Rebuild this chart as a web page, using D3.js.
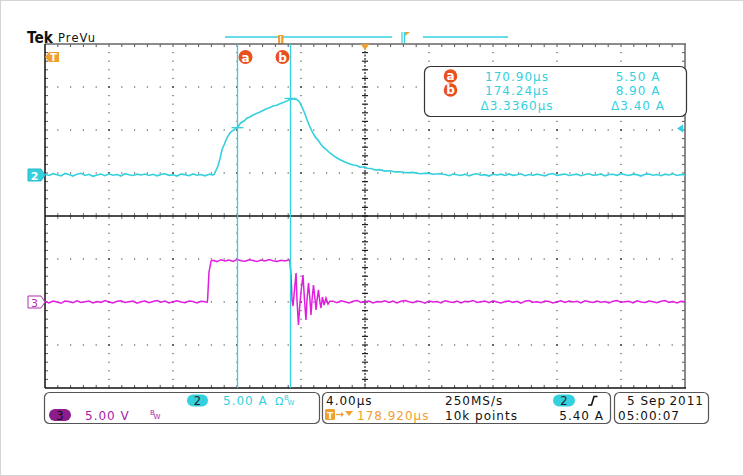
<!DOCTYPE html>
<html><head><meta charset="utf-8">
<script src="https://cdn.jsdelivr.net/npm/d3@7/dist/d3.min.js"></script>
<style>body{margin:0;background:#fff}svg{display:block}text{font-family:"DejaVu Sans",sans-serif}</style>
</head><body><svg id="c" width="744" height="476"></svg>
<script>
// ---------------- data ----------------
const timePerDiv = 4.00;          // µs/div
const triggerTime = 178.920;      // µs (screen centre)
const ch2PerDiv = 5.00;           // A/div
const ch3PerDiv = 5.00;           // V/div
const triggerLevel = 5.40;        // A
const cursorTimes = [170.90, 174.24];
const cursorValues = [5.50, 8.90];
const cursorLabels = ["a", "b"];
const readoutTimes = ["170.90µs", "174.24µs", "Δ3.3360µs"];
const readoutValues = ["5.50 A", "8.90 A", "Δ3.40 A"];
const sampleStep = 0.25; // µs between listed samples of uniform segments

const ch2Before = {start:158.92, values:[0.10,-0.05,0.15,0.02,-0.10,0.18,0.05,-0.12,0.10,0.20,-0.05,0.08,-0.15,0.00,0.12,-0.08,0.14,-0.02,0.05,-0.12,0.16,0.02,-0.06,0.10,0.00,0.12,-0.05,0.08,-0.10,0.06,0.15,-0.04,0.02,-0.12,0.10,0.04,-0.08,0.12,-0.02,0.06,-0.10,0.08,0.02]};
const ch2Pulse = [[169.48,0.05],[169.6,0.5],[169.73,1.05],[169.86,1.9],[169.98,2.9],[170.05,3.26],[170.14,3.6],[170.23,4.07],[170.35,4.5],[170.48,4.88],[170.6,5.1],[170.73,5.23],[170.85,5.45],[170.98,5.58],[171.1,5.95],[171.23,6.16],[171.38,6.3],[171.55,6.63],[171.7,6.72],[171.92,6.98],[172.1,7.12],[172.36,7.33],[172.55,7.5],[172.73,7.67],[172.95,7.82],[173.17,8.02],[173.4,8.1],[173.61,8.28],[173.85,8.45],[174.05,8.62],[174.2,8.78],[174.36,8.82],[174.5,8.88],[174.67,8.76],[174.78,8.6],[174.86,8.37],[174.98,7.9],[175.08,7.5],[175.17,7.09],[175.3,6.4],[175.48,5.58],[175.58,5.2],[175.67,4.88],[175.82,4.4],[175.98,4.07],[176.15,3.6],[176.3,3.26],[176.5,2.95],[176.73,2.56],[176.95,2.25],[177.17,1.98],[177.4,1.75],[177.67,1.51],[177.9,1.35],[178.17,1.16],[178.4,1.1],[178.61,0.9],[178.85,0.95],[179.05,0.78],[179.3,0.76],[179.55,0.58],[179.85,0.62],[180.17,0.45],[180.5,0.5],[180.8,0.36],[181.11,0.38],[181.5,0.26],[181.9,0.3],[182.36,0.15],[182.8,0.22],[183.2,0.08],[183.61,0.14]];
const ch2After = {start:183.92, values:[0.05,-0.08,0.12,0.02,-0.05,0.10,-0.10,0.06,0.15,-0.02,0.04,-0.12,0.08,0.00,0.10,-0.06,0.12,-0.04,0.02,0.14,-0.08,0.06,-0.02,0.10,0.00,-0.10,0.08,0.16,-0.05,0.04,0.12,-0.06,0.02,0.10,-0.08,0.06,0.14,-0.02,0.00,0.12,-0.10,0.05,0.08,-0.04,0.15,0.02,-0.06,0.10,0.04,-0.12,0.08,0.12,-0.02,0.06,-0.08,0.10,0.00,0.14,-0.05,0.06,0.02]};

const ch3Before = {start:158.92, values:[0.08,-0.10,0.12,0.00,-0.15,0.10,0.05,-0.08,0.15,-0.05,0.02,0.12,-0.12,0.06,-0.04,0.18,0.00,-0.10,0.08,0.14,-0.06,0.04,0.10,-0.14,0.02,0.12,-0.08,0.06,0.16,-0.02,0.10,-0.12,0.04,0.14,0.00,-0.08,0.12,0.06,-0.10,0.08,0.02]};
const ch3Edge = [[169.05,-0.05],[169.08,0.2],[169.17,3.49],[169.3,4.77]];
const ch3High = {start:169.42, values:[4.85,4.70,4.92,4.78,4.88,4.72,4.95,4.80,4.74,4.90,4.82,4.70,4.88,4.76,4.93,4.80,4.72,4.86,4.78,4.90]};
const ch3Ring = [[174.23,4.77],[174.295,3.14],[174.36,0.23],[174.42,-0.47],[174.48,0.70],[174.61,3.37],[174.67,0.23],[174.76,-2.67],[174.86,0.0],[174.92,1.16],[175.045,3.14],[175.14,0.23],[175.23,-2.09],[175.295,0.23],[175.39,2.21],[175.48,0.23],[175.545,-1.51],[175.61,0.23],[175.70,1.98],[175.80,0.23],[175.86,-0.93],[175.92,0.23],[176.01,1.40],[176.11,-0.12],[176.17,-0.70],[176.26,0.58],[176.36,-0.35],[176.48,0.47],[176.61,-0.23],[176.73,0.10]];
const ch3After = {start:176.92, values:[0.10,-0.08,0.15,0.02,-0.12,0.08,0.18,-0.05,0.04,0.12,-0.10,0.06,0.00,0.14,-0.06,0.10,-0.12,0.08,0.16,0.02,-0.08,0.12,0.04,-0.14,0.10,0.00,0.06,-0.10,0.15,0.02,-0.05,0.12,-0.12,0.08,0.04,0.18,-0.06,0.02,0.10,-0.08,0.14,0.00,-0.10,0.06,0.12,-0.04,0.08,-0.14,0.10,0.16,-0.02,0.04,-0.08,0.12,0.06,-0.12,0.02,0.14,-0.06,0.10,0.00,0.08,-0.10,0.15,0.04,-0.06,0.12,-0.02,0.06,-0.12,0.10,0.18,-0.04,0.02,0.08,-0.10,0.14,0.00,-0.06,0.12,0.04,-0.08,0.10,0.16,-0.04,0.06,-0.12,0.08,0.02]};

// ---------------- layout ----------------
const svg = d3.select('#c');
const gL = 45, gR = 685, gT = 44, gB = 388;
const divX = (gR - gL) / 10, divY = (gB - gT) / 8;
const midY = gT + 4 * divY;
const CY = '#34d0de', MG = '#e01ee0', OR = '#f0a030', RED = '#e8501e';

const x = d3.scaleLinear().domain([triggerTime - 5 * timePerDiv, triggerTime + 5 * timePerDiv]).range([gL, gR]);
const ch2Zero = 175, ch3Zero = midY + 2 * divY;
const y2 = d3.scaleLinear().domain([0, ch2PerDiv]).range([ch2Zero, ch2Zero - divY]);
const y3 = d3.scaleLinear().domain([0, ch3PerDiv]).range([ch3Zero, ch3Zero - divY]);

const seg = s => s.values.map((v, i) => [s.start + i * sampleStep, v]);
const ch2 = [...seg(ch2Before), ...ch2Pulse, ...seg(ch2After)];
const ch3 = [...seg(ch3Before), ...ch3Edge, ...seg(ch3High), ...ch3Ring, ...seg(ch3After)];

svg.append('rect').attr('x', 0.5).attr('y', 0.5).attr('width', 743).attr('height', 475).attr('fill', '#fff').attr('stroke', '#d4d4d4');

// header
svg.append('text').attr('x', 27).attr('y', 43).attr('font-family', '"Liberation Serif",serif').attr('font-weight', 'bold').attr('font-size', 16).attr('textLength', 26).attr('lengthAdjust', 'spacingAndGlyphs').attr('fill', '#111').text('Tek');
svg.append('text').attr('x', 58).attr('y', 42).attr('font-size', 11.5).attr('letter-spacing', 1.1).attr('fill', '#111').text('PreVu');

// record bar
svg.append('line').attr('x1', 225).attr('x2', 392).attr('y1', 37).attr('y2', 37).attr('stroke', CY).attr('stroke-width', 1.3);
svg.append('line').attr('x1', 423).attr('x2', 508).attr('y1', 37).attr('y2', 37).attr('stroke', CY).attr('stroke-width', 1.3);
svg.append('line').attr('x1', 402).attr('x2', 402).attr('y1', 32).attr('y2', 43).attr('stroke', CY).attr('stroke-width', 1.2);
svg.append('line').attr('x1', 404.5).attr('x2', 404.5).attr('y1', 32).attr('y2', 43).attr('stroke', CY).attr('stroke-width', 1.2);
svg.append('path').attr('d', 'M405,32 L410,32 L405,36 Z').attr('fill', OR);
svg.append('rect').attr('x', 278).attr('y', 35).attr('width', 5.5).attr('height', 9).attr('fill', OR);
svg.append('line').attr('x1', 280.7).attr('x2', 280.7).attr('y1', 36).attr('y2', 43).attr('stroke', '#fff').attr('stroke-width', 1);

// graticule
const gr = svg.append('g');
for (let k = 1; k < 10; k++) {
  if (k === 5) continue;
  const xx = gL + k * divX;
  for (let j = 1; j < 40; j++) {
    if (j === 20) continue;
    gr.append('rect').attr('x', xx - 0.6).attr('y', gT + j * divY / 5 - 0.6).attr('width', 1.2).attr('height', 1.2).attr('fill', '#555');
  }
}
[1, 2, 3, 5, 6, 7].forEach(k => {
  const yy = gT + k * divY;
  for (let j = 1; j < 50; j++) {
    if (j % 5 === 0 && j !== 25) continue;
    gr.append('rect').attr('x', gL + j * divX / 5 - 0.6).attr('y', yy - 0.6).attr('width', 1.2).attr('height', 1.2).attr('fill', '#555');
  }
});
[1, 2, 3, 5, 6, 7].forEach(k => {
  for (let kk = 1; kk < 10; kk++) { if (kk === 5) continue;
    gr.append('rect').attr('x', gL + kk * divX - 0.8).attr('y', gT + k * divY - 0.8).attr('width', 1.6).attr('height', 1.6).attr('fill', '#333'); }
});
// centre vertical
const cx = gL + 5 * divX;
gr.append('line').attr('x1', cx).attr('x2', cx).attr('y1', gT).attr('y2', gB).attr('stroke', '#333').attr('stroke-width', 1.3).attr('stroke-dasharray', '2,1.5');
for (let j = 1; j < 40; j++) {
  gr.append('line').attr('x1', cx - 3).attr('x2', cx + 3).attr('y1', gT + j * divY / 5).attr('y2', gT + j * divY / 5).attr('stroke', '#222').attr('stroke-width', 1.2);
}
// divider
for (let j = 1; j < 50; j++) {
  gr.append('line').attr('x1', gL + j * divX / 5).attr('x2', gL + j * divX / 5).attr('y1', midY - 3).attr('y2', midY + 3).attr('stroke', '#777').attr('stroke-width', 1);
}
gr.append('line').attr('x1', gL).attr('x2', gR).attr('y1', midY).attr('y2', midY).attr('stroke', '#111').attr('stroke-width', 1.5);
// edges
for (let j = 1; j < 40; j++) {
  const yy = gT + j * divY / 5;
  gr.append('line').attr('x1', gL).attr('x2', gL + 3).attr('y1', yy).attr('y2', yy).attr('stroke', '#555');
  gr.append('line').attr('x1', gR - 3).attr('x2', gR).attr('y1', yy).attr('y2', yy).attr('stroke', '#555');
}
for (let j = 1; j < 50; j++) {
  const xx = gL + j * divX / 5;
  gr.append('line').attr('x1', xx).attr('x2', xx).attr('y1', gT).attr('y2', gT + 3).attr('stroke', '#555');
  gr.append('line').attr('x1', xx).attr('x2', xx).attr('y1', gB - 3).attr('y2', gB).attr('stroke', '#555');
}
gr.append('line').attr('x1', gL).attr('x2', gR + 1).attr('y1', gT).attr('y2', gT).attr('stroke', '#666').attr('stroke-width', 1.5);
gr.append('line').attr('x1', gR).attr('x2', gR).attr('y1', gT).attr('y2', gB).attr('stroke', '#666').attr('stroke-width', 1.5);
gr.append('line').attr('x1', gL).attr('x2', gR + 1).attr('y1', gB).attr('y2', gB).attr('stroke', '#111').attr('stroke-width', 1.5);
gr.append('line').attr('x1', gL).attr('x2', gL).attr('y1', gT).attr('y2', gB).attr('stroke', '#111').attr('stroke-width', 1.5);

// clip
svg.append('clipPath').attr('id', 'clp').append('rect').attr('x', gL).attr('y', gT).attr('width', gR - gL).attr('height', gB - gT);

// traces
const line2 = d3.line().x(d => x(d[0])).y(d => y2(d[1]));
const line3 = d3.line().x(d => x(d[0])).y(d => y3(d[1]));
svg.append('path').attr('clip-path', 'url(#clp)').attr('d', line2(ch2)).attr('fill', 'none').attr('stroke', CY).attr('stroke-width', 1.6);
svg.append('path').attr('clip-path', 'url(#clp)').attr('d', line3(ch3)).attr('fill', 'none').attr('stroke', MG).attr('stroke-width', 1.5);

// cursors
cursorTimes.forEach((t, i) => {
  const xx = Math.round(x(t)) + 0.5;
  svg.append('line').attr('x1', xx).attr('x2', xx).attr('y1', gT).attr('y2', gB).attr('stroke', CY).attr('stroke-width', 1.3);
  svg.append('line').attr('x1', xx - 6).attr('x2', xx + 6).attr('y1', y2(cursorValues[i])).attr('y2', y2(cursorValues[i])).attr('stroke', CY).attr('stroke-width', 1.3);
  const lx = i === 0 ? xx + 8 : xx - 8;
  svg.append('circle').attr('cx', lx).attr('cy', 57).attr('r', 7).attr('fill', RED);
  svg.append('text').attr('x', lx).attr('y', 61.5).attr('text-anchor', 'middle').attr('font-size', 12).attr('font-weight', 'bold').attr('fill', '#fff').text(cursorLabels[i]);
});

// trigger markers
svg.append('path').attr('d', `M${cx - 4.5},${gT} L${cx + 4.5},${gT} L${cx},${gT + 6} Z`).attr('fill', OR);
svg.append('path').attr('d', 'M59,52 L49,52 L45,57 L49,62 L59,62 Z').attr('fill', OR);
svg.append('text').attr('x', 53.5).attr('y', 61).attr('text-anchor', 'middle').attr('font-size', 10).attr('font-weight', 'bold').attr('fill', '#fff').text('T');
const ty = y2(triggerLevel);
svg.append('path').attr('d', `M677,${ty} L683,${ty - 4} L683,${ty + 4} Z`).attr('fill', CY);

// channel markers
svg.append('path').attr('d', `M28,${ch2Zero - 6} L41,${ch2Zero - 6} L45,${ch2Zero} L41,${ch2Zero + 6} L28,${ch2Zero + 6} Z`).attr('fill', CY).attr('stroke', '#2bb8c8');
svg.append('text').attr('x', 34.5).attr('y', ch2Zero + 4.5).attr('text-anchor', 'middle').attr('font-size', 11).attr('font-weight', 'bold').attr('fill', '#fff').text('2');
svg.append('path').attr('d', `M28,${ch3Zero - 6} L41,${ch3Zero - 6} L45,${ch3Zero} L41,${ch3Zero + 6} L28,${ch3Zero + 6} Z`).attr('fill', '#fff').attr('stroke', '#b030b0');
svg.append('text').attr('x', 34.5).attr('y', ch3Zero + 4.5).attr('text-anchor', 'middle').attr('font-size', 11).attr('fill', '#b030b0').text('3');

// readout box
svg.append('rect').attr('x', 424.5).attr('y', 66.5).attr('width', 262).attr('height', 50).attr('rx', 6).attr('fill', '#fff').attr('stroke', '#333').attr('stroke-width', 1.2);
const rowY = [81, 95, 110];
readoutTimes.forEach((s, i) => {
  if (i < 2) {
    svg.append('circle').attr('cx', 450.5).attr('cy', rowY[i] - 5).attr('r', 6.8).attr('fill', RED);
    svg.append('text').attr('x', 450.5).attr('y', rowY[i] - 1).attr('text-anchor', 'middle').attr('font-size', 12).attr('font-weight', 'bold').attr('fill', '#fff').text(cursorLabels[i]);
  }
  svg.append('text').attr('x', 517).attr('y', rowY[i]).attr('text-anchor', 'middle').attr('font-size', 12).attr('letter-spacing', 1).attr('fill', CY).text(s);
  svg.append('text').attr('x', 638).attr('y', rowY[i]).attr('text-anchor', 'middle').attr('font-size', 12).attr('letter-spacing', 1).attr('fill', CY).text(readoutValues[i]);
});

// status boxes
[[44.5, 275], [322.5, 288], [614.5, 94]].forEach(b => {
  svg.append('rect').attr('x', b[0]).attr('y', 392.5).attr('width', b[1]).attr('height', 31).attr('rx', 5).attr('fill', '#fff').attr('stroke', '#555').attr('stroke-width', 1.2);
});
const txt = (s, xx, yy, col, anchor) => svg.append('text').attr('x', xx).attr('y', yy).attr('font-size', 12).attr('letter-spacing', 1).attr('fill', col).attr('text-anchor', anchor || 'start').text(s);
// box 1
svg.append('rect').attr('x', 187).attr('y', 394.5).attr('width', 21).attr('height', 12).attr('rx', 6).attr('fill', CY);
svg.append('text').attr('x', 197.5).attr('y', 405).attr('text-anchor', 'middle').attr('font-size', 11.5).attr('fill', '#222').text('2');
txt(ch2PerDiv.toFixed(2) + ' A', 223, 405, CY);
svg.append('text').attr('x', 275).attr('y', 405).attr('font-size', 11).attr('fill', CY).text('Ω');
svg.append('text').attr('x', 284).attr('y', 400).attr('font-size', 7).attr('fill', CY).text('B');
svg.append('text').attr('x', 287.5).attr('y', 404.5).attr('font-size', 7).attr('fill', CY).text('W');
svg.append('rect').attr('x', 49).attr('y', 409).attr('width', 22).attr('height', 12).attr('rx', 6).attr('fill', '#8c1c8c');
svg.append('text').attr('x', 60).attr('y', 419.5).attr('text-anchor', 'middle').attr('font-size', 11.5).attr('fill', '#111').text('3');
txt(ch3PerDiv.toFixed(2) + ' V', 85, 419.5, '#a81ca8');
svg.append('text').attr('x', 150).attr('y', 414.5).attr('font-size', 7).attr('fill', '#a81ca8').text('B');
svg.append('text').attr('x', 153.5).attr('y', 419).attr('font-size', 7).attr('fill', '#a81ca8').text('W');
// box 2
txt(timePerDiv.toFixed(2) + 'µs', 326, 405, '#111');
txt('250MS/s', 445, 405, '#111');
svg.append('rect').attr('x', 553).attr('y', 394.5).attr('width', 22).attr('height', 12).attr('rx', 6).attr('fill', CY);
svg.append('text').attr('x', 564).attr('y', 405).attr('text-anchor', 'middle').attr('font-size', 11.5).attr('fill', '#222').text('2');
svg.append('path').attr('d', 'M588,405 L591.5,405 L594,396.5 L597.5,396.5').attr('fill', 'none').attr('stroke', '#111').attr('stroke-width', 1.6);
svg.append('rect').attr('x', 325).attr('y', 409).attr('width', 10).attr('height', 11).attr('rx', 1.5).attr('fill', OR);
svg.append('text').attr('x', 330).attr('y', 418.5).attr('text-anchor', 'middle').attr('font-size', 9).attr('font-weight', 'bold').attr('fill', '#fff').text('T');
svg.append('path').attr('d', 'M336,414.5 L342,414.5').attr('stroke', OR).attr('stroke-width', 1.3);
svg.append('path').attr('d', 'M341,412 L344,414.5 L341,417 Z').attr('fill', OR);
svg.append('path').attr('d', 'M345,411 L353,411 L349,416 Z').attr('fill', OR);
txt(triggerTime.toFixed(3) + 'µs', 357, 419.5, OR);
txt('10k points', 445, 419.5, '#111');
txt(triggerLevel.toFixed(2) + ' A', 604, 419.5, '#111', 'end');
// box 3
txt('5 Sep', 627, 405, '#111');
txt('2011', 704, 405, '#111', 'end');
txt('05:00:07', 618, 419.5, '#111');
</script></body></html>
